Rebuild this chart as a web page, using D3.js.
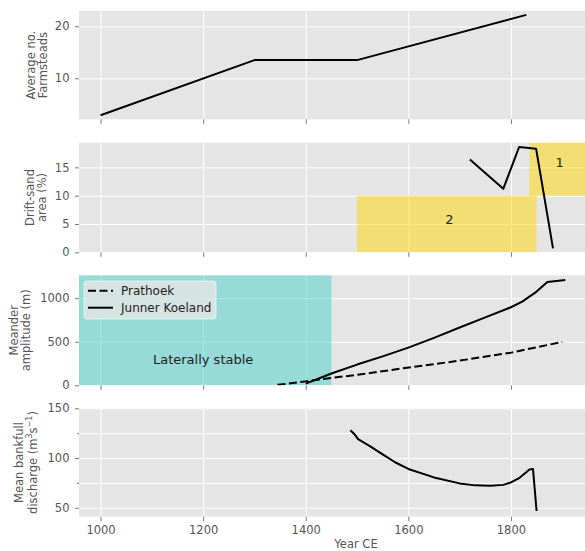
<!DOCTYPE html>
<html lang="en">
<head>
<meta charset="UTF-8">
<title>River and farmsteads</title>
<script src="https://cdn.jsdelivr.net/npm/d3@7"></script>
<style>
    body { margin: 0; background: #fff; }
    text { font-family: "DejaVu Sans", sans-serif; }
</style>
</head>
<body>
<div id="chart"></div>
<script>
// ---- data ----
const xTicks = [1000, 1200, 1400, 1600, 1800];

const farmYears = [1000, 1300, 1500, 1830];
const farmCount = [2.9, 13.5, 13.5, 22.2];

const sandYears = [1720, 1785, 1816, 1849, 1882];
const sandArea = [16.4, 11.2, 18.6, 18.3, 0.7];
// drift-sand phases: label, start year, end year, low %, high %
const sandPhaseLabel = ['2', '1'];
const sandPhaseStart = [1500, 1836];
const sandPhaseEnd = [1850, 1960];
const sandPhaseLow = [0, 10];
const sandPhaseHigh = [10, 20];
const sandPhaseTextYear = [1680, 1895];
const sandPhaseTextValue = [5, 15];

const stableEnd = 1450;

const prathoekYears = [1345, 1400, 1450, 1500, 1583, 1700, 1800, 1900];
const prathoekAmp = [5, 45, 85, 120, 190, 283, 375, 498];

const junnerYears = [1400, 1450, 1500, 1550, 1600, 1650, 1700, 1750, 1800, 1822, 1850, 1871, 1906];
const junnerAmp = [20, 135, 238, 332, 432, 545, 664, 780, 896, 961, 1076, 1187, 1210];

const dischargeYears = [1487, 1495, 1502, 1525, 1550, 1575, 1600, 1650, 1700, 1730, 1760, 1785, 1800, 1815, 1828, 1836, 1843, 1850];
const dischargeVal = [128, 124, 119, 112, 103.7, 95.5, 89, 80.5, 74.5, 72.5, 72, 73, 75.5, 79.5, 85, 88.5, 89, 46.7];

// ---- layout ----
const W = 585, H = 551;
const left = 79, right = 592;
const panelTop = [11, 142.7, 275.3, 408.3];
const panelH = [108.3, 109.6, 110, 108.4];
const tickColor = '#555';
const fs = '11.5px';

const svg = d3.select('#chart').append('svg')
    .attr('width', W)
    .attr('height', H);

const x = d3.scaleLinear().domain([958, 1958]).range([left, right]);

function makePanel(i, yDomain, yTicks, labelLines, labelX, showLabel) {
    const top = panelTop[i], h = panelH[i];
    const y = d3.scaleLinear().domain(yDomain).range([top + h, top]);
    const g = svg.append('g');

    g.append('rect')
        .attr('x', left).attr('y', top)
        .attr('width', right - left).attr('height', h)
        .attr('fill', '#e5e5e5');

    // grid
    g.append('g')
        .attr('transform', 'translate(0,' + (top + h) + ')')
        .call(d3.axisBottom(x).tickValues(xTicks).tickSize(-h).tickFormat(''))
        .call(s => { s.select('.domain').remove(); s.selectAll('line').attr('stroke', '#fff').attr('stroke-width', 1); });
    g.append('g')
        .attr('transform', 'translate(' + left + ',0)')
        .call(d3.axisLeft(y).tickValues(yTicks).tickSize(-(right - left)).tickFormat(''))
        .call(s => { s.select('.domain').remove(); s.selectAll('line').attr('stroke', '#fff').attr('stroke-width', 1); });

    // x ticks
    const xa = g.append('g')
        .attr('transform', 'translate(0,' + (top + h) + ')')
        .call(d3.axisBottom(x).tickValues(xTicks).tickSize(4.5).tickPadding(5)
            .tickFormat(i === 3 ? d3.format('d') : ''));
    xa.select('.domain').remove();
    xa.selectAll('line').attr('stroke', tickColor).attr('stroke-width', 0.8);
    xa.selectAll('text').attr('fill', tickColor).attr('font-size', fs)
        .attr('font-family', '"DejaVu Sans", sans-serif');

    // y ticks
    const ya = g.append('g')
        .attr('transform', 'translate(' + left + ',0)')
        .call(d3.axisLeft(y).tickValues(yTicks).tickSize(4).tickPadding(5.5)
            .tickFormat(d => showLabel(d) ? d : ''));
    ya.select('.domain').remove();
    ya.selectAll('.tick').each(function (d) {
        if (!showLabel(d)) d3.select(this).select('line').attr('x2', -2);
    });
    ya.selectAll('line').attr('stroke', tickColor).attr('stroke-width', 0.8);
    ya.selectAll('text').attr('fill', tickColor).attr('font-size', fs)
        .attr('font-family', '"DejaVu Sans", sans-serif');

    // y label (two lines)
    const cy = top + h / 2;
    labelLines.forEach((line, k) => {
        const t = svg.append('text')
            .attr('transform', 'translate(' + labelX[k] + ',' + cy + ') rotate(-90)')
            .attr('text-anchor', 'middle')
            .attr('dominant-baseline', 'central')
            .attr('fill', tickColor)
            .attr('font-size', fs);
        if (typeof line === 'string') t.text(line);
        else line(t);
    });

    // clipped plotting area
    const clipId = 'clip' + i;
    svg.append('clipPath').attr('id', clipId)
        .append('rect').attr('x', left).attr('y', top)
        .attr('width', right - left).attr('height', h);
    const plot = svg.append('g').attr('clip-path', 'url(#' + clipId + ')');
    return { y, plot };
}

const lineGen = (y) => d3.line().x(d => x(d[0])).y(d => y(d[1]));
function drawLine(plot, y, xs, ys, dash) {
    plot.append('path')
        .datum(xs.map((v, k) => [v, ys[k]]))
        .attr('d', lineGen(y))
        .attr('fill', 'none')
        .attr('stroke', '#000')
        .attr('stroke-width', 2)
        .attr('stroke-linejoin', 'round')
        .attr('stroke-dasharray', dash || null);
}

// panel 1: farmsteads
const p1 = makePanel(0, [2.12, 22.94], [10, 20], ['Average no.', 'Farmsteads'], [31, 43], () => true);
drawLine(p1.plot, p1.y, farmYears, farmCount);

// panel 2: drift sand
const p2 = makePanel(1, [0, 19.35], [0, 5, 10, 15], ['Drift-sand', 'area (%)'], [30, 42], () => true);
sandPhaseLabel.forEach((lab, k) => {
    p2.plot.append('rect')
        .attr('x', x(sandPhaseStart[k]))
        .attr('y', p2.y(sandPhaseHigh[k]))
        .attr('width', x(sandPhaseEnd[k]) - x(sandPhaseStart[k]))
        .attr('height', p2.y(sandPhaseLow[k]) - p2.y(sandPhaseHigh[k]))
        .attr('fill', 'gold')
        .attr('fill-opacity', 0.5);
});
drawLine(p2.plot, p2.y, sandYears, sandArea);
sandPhaseLabel.forEach((lab, k) => {
    svg.append('text')
        .attr('x', x(sandPhaseTextYear[k]))
        .attr('y', p2.y(sandPhaseTextValue[k]))
        .attr('text-anchor', 'middle')
        .attr('font-size', '13px')
        .attr('fill', '#222')
        .text(lab);
});

// panel 3: meander amplitude
const p3 = makePanel(2, [0, 1263], [0, 500, 1000], ['Meander', 'amplitude (m)'], [13.5, 25.5], () => true);
p3.plot.append('rect')
    .attr('x', x(x.domain()[0]))
    .attr('y', p3.y(p3.y.domain()[1]))
    .attr('width', x(stableEnd) - x(x.domain()[0]))
    .attr('height', p3.y(0) - p3.y(p3.y.domain()[1]))
    .attr('fill', 'mediumturquoise')
    .attr('fill-opacity', 0.5);
svg.append('text')
    .attr('x', x(1200))
    .attr('y', p3.y(250))
    .attr('text-anchor', 'middle')
    .attr('font-size', '13px')
    .attr('fill', '#222')
    .text('Laterally stable');
drawLine(p3.plot, p3.y, prathoekYears, prathoekAmp, '8,3.5');
drawLine(p3.plot, p3.y, junnerYears, junnerAmp);

// legend
const legend = svg.append('g');
legend.append('rect')
    .attr('x', 84).attr('y', 281)
    .attr('width', 132).attr('height', 38)
    .attr('rx', 3)
    .attr('fill', '#e5e5e5').attr('fill-opacity', 0.8)
    .attr('stroke', '#fff').attr('stroke-opacity', 0.6);
[['Prathoek', '8,3.5', 290.7], ['Junner Koeland', null, 307.7]].forEach(([name, dash, ly]) => {
    legend.append('line')
        .attr('x1', 88).attr('x2', 113).attr('y1', ly).attr('y2', ly)
        .attr('stroke', '#000').attr('stroke-width', 2)
        .attr('stroke-dasharray', dash);
    legend.append('text')
        .attr('x', 121).attr('y', ly)
        .attr('dominant-baseline', 'central')
        .attr('font-size', '12px')
        .attr('fill', '#222')
        .text(name);
});

// panel 4: discharge
const p4 = makePanel(3, [41, 150], [50, 75, 100, 125, 150],
    ['Mean bankfull', t => {
        t.append('tspan').text('discharge (m');
        t.append('tspan').attr('font-size', '8px').attr('dy', -4).text('3');
        t.append('tspan').attr('dy', 4).text('s');
        t.append('tspan').attr('font-size', '8px').attr('dy', -4).text('\u22121');
        t.append('tspan').attr('dy', 4).text(')');
    }],
    [18.5, 33], d => d % 50 === 0);
drawLine(p4.plot, p4.y, dischargeYears, dischargeVal);

svg.append('text')
    .attr('x', 356)
    .attr('y', 547.5)
    .attr('text-anchor', 'middle')
    .attr('font-size', fs)
    .attr('fill', tickColor)
    .text('Year CE');
</script>
</body>
</html>
